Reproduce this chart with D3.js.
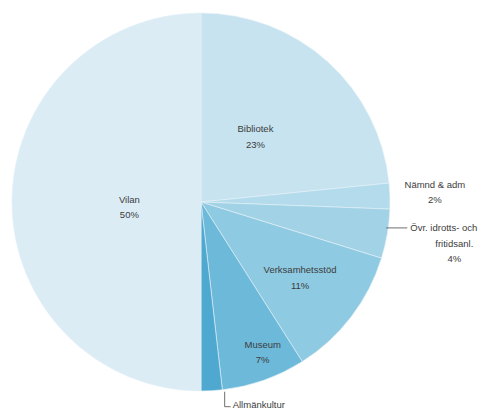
<!DOCTYPE html>
<html>
<head>
<meta charset="utf-8">
<script src="https://cdn.jsdelivr.net/npm/d3@7/dist/d3.min.js"></script>
<style>
  html, body { margin: 0; padding: 0; background: #ffffff; }
  svg { display: block; }
  text { font-family: "Liberation Sans", Arial, sans-serif; fill: #3c3c3c; }
</style>
</head>
<body>
<svg id="chart" width="486" height="416"></svg>
<script>
// Budget shares per area (percent), drawn clockwise from 12 o'clock
const categories = ["Bibliotek", "Nämnd & adm", "Övr. idrotts- och fritidsanl.", "Verksamhetsstöd", "Museum", "Allmänkultur", "Vilan"];
const shares = [23.4, 2.2, 4.2, 11.2, 7.2, 1.8, 50.0];
const sliceColors = ["#c6e3ef", "#b4dbeb", "#a2d2e6", "#8ecae1", "#6cb9d9", "#4ea8d0", "#dbecf5"];

// Label text lines per category (name lines; the percentage is appended)
const labelLines = {
  "Bibliotek": ["Bibliotek"],
  "Nämnd & adm": ["Nämnd & adm"],
  "Övr. idrotts- och fritidsanl.": ["Övr. idrotts- och", "fritidsanl."],
  "Verksamhetsstöd": ["Verksamhetsstöd"],
  "Museum": ["Museum"],
  "Allmänkultur": ["Allmänkultur"],
  "Vilan": ["Vilan"]
};

const svg = d3.select("#chart");
const cx = 201, cy = 202, R = 189;
const g = svg.append("g").attr("transform", `translate(${cx},${cy})`);

const data = categories.map((c, i) => ({ name: c, value: shares[i], color: sliceColors[i] }));
const total = d3.sum(shares);
const pct = d3.format(".0%");

const pie = d3.pie().sort(null).value(d => d.value).startAngle(0).endAngle(2 * Math.PI);
const arcs = pie(data);
const arc = d3.arc().innerRadius(0).outerRadius(R);

g.selectAll("path.slice")
  .data(arcs)
  .join("path")
  .attr("class", "slice")
  .attr("d", arc)
  .attr("fill", d => d.data.color)
  .attr("stroke", "#e6f2f8")
  .attr("stroke-width", 0.6);

// point at radius r along the mid angle of a slice
function polar(d, r, da = 0) {
  const a = (d.startAngle + d.endAngle) / 2 + da;
  return [r * Math.sin(a), -r * Math.cos(a)];
}

// inside labels: fraction of radius along the slice mid angle
const insideRadius = { "Bibliotek": 0.45, "Verksamhetsstöd": 0.66, "Museum": 0.86, "Vilan": 0.38 };
const insideTurn = { "Bibliotek": -0.04, "Verksamhetsstöd": 0, "Museum": -0.05, "Vilan": -0.07 };
const lineH = 15.5;
const fs = 9.5;

function drawLabel(x, y, lines, anchor = "middle") {
  const t = g.append("text")
    .attr("text-anchor", anchor)
    .attr("font-size", fs);
  const y0 = y - (lines.length - 1) * lineH / 2;
  lines.forEach((s, i) => {
    t.append("tspan").attr("x", x).attr("y", y0 + i * lineH).attr("dy", "0.35em").text(s);
  });
}

arcs.forEach(d => {
  const name = d.data.name;
  const lines = labelLines[name].concat([pct(d.data.value / total)]);
  if (insideRadius[name] !== undefined) {
    const [x, y] = polar(d, R * insideRadius[name], insideTurn[name]);
    drawLabel(x, y, lines);
  }
});

const leader = g.append("g").attr("fill", "none").attr("stroke", "#4a4a4a").attr("stroke-width", 0.8);

// Nämnd & adm: outside, right of the rim
{
  const d = arcs[1];
  const [ex, ey] = polar(d, R);
  drawLabel(ex + 45, ey - 4, labelLines[d.data.name].concat([pct(d.data.value / total)]));
}
// Övr. idrotts- och fritidsanl.: short leader to the right
{
  const d = arcs[2];
  const [ex, ey] = polar(d, R);
  const ly = ey - 6;
  leader.append("path").attr("d", `M${ex - 1},${ly} L${ex + 20},${ly}`);
  const t = g.append("text").attr("font-size", fs);
  const lines = labelLines[d.data.name].concat([pct(d.data.value / total)]);
  const mx = ex + 67;
  lines.forEach((s, i) => {
    t.append("tspan").attr("x", i === 0 ? ex + 23 : mx).attr("y", ly + i * lineH)
      .attr("dy", "0.35em").attr("text-anchor", i === 0 ? "start" : "middle").text(s);
  });
}
// Allmänkultur: leader down and right from the bottom rim (the name sits at the bottom edge)
{
  const d = arcs[5];
  const [ex, ey] = polar(d, R);
  const lx = ex + 13, ly = ey + 16;
  leader.append("path").attr("d", `M${lx},${ey + 1} L${lx},${ly} L${lx + 6},${ly}`);
  g.append("text").attr("font-size", fs)
    .attr("x", lx + 8).attr("y", ly - 2).attr("dy", "0.35em")
    .text(labelLines[d.data.name][0]);
}
</script>
</body>
</html>
